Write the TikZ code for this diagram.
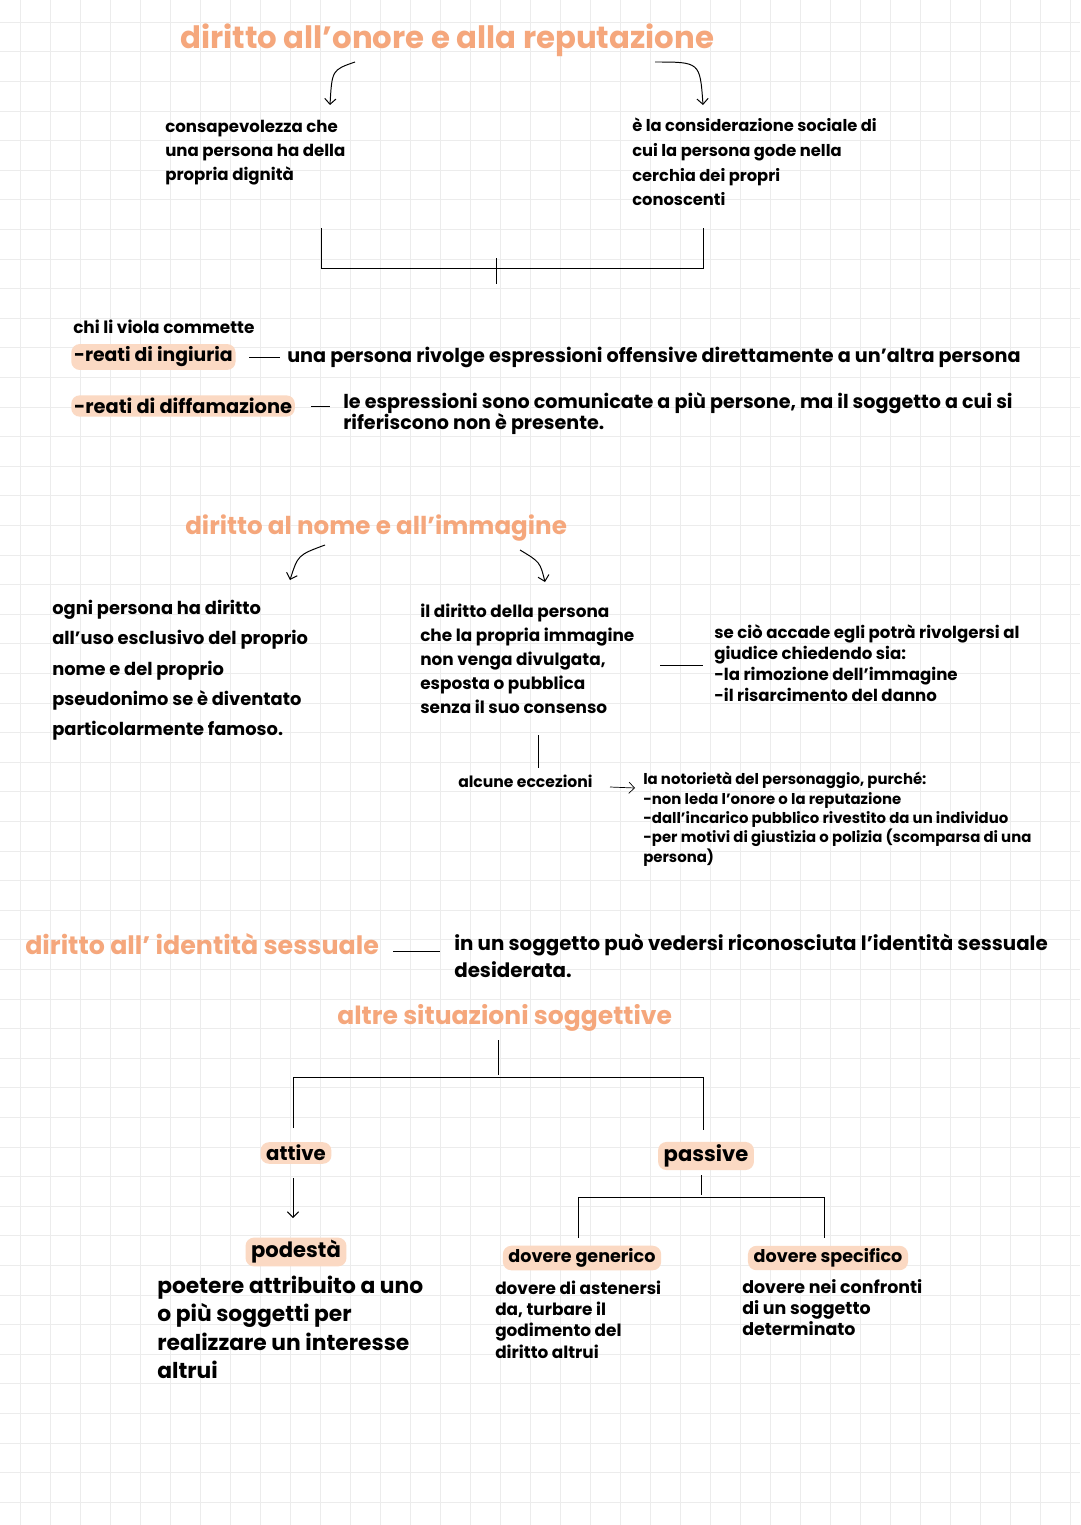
\documentclass[tikz,border=0pt]{standalone}
\usepackage{fontspec}
\setmainfont{Poppins}
\usetikzlibrary{positioning,arrows.meta}
\definecolor{peach}{HTML}{F5A77C}
\definecolor{hilite}{HTML}{FBD9C3}
\tikzset{
  title/.style={anchor=west, text=peach, font=\bfseries\fontsize{21.9}{24}\selectfont, inner sep=0pt},
  txt/.style={anchor=north west, align=left, inner sep=0pt, font=\bfseries\fontsize{12}{17}\selectfont},
  hl/.style={fill=hilite, rounded corners=6pt, inner xsep=4pt, inner ysep=2pt},
  link/.style={line width=0.7pt},
  tip/.style={line width=0.7pt, -{Straight Barb[length=4pt]}}
}
\begin{document}
\begin{tikzpicture}[x=0.025cm, y=-0.025cm]
  % paper and grid
  \fill[white] (0,0) rectangle (1080,1525);
  \useasboundingbox (0,0) rectangle (1080,1525);
  \foreach \x in {20,50,...,1070} \draw[gray!15] (\x,0) -- (\x,1525);
  \foreach \y in {0,...,51} \draw[gray!15] (0,22+29.6*\y) -- (1080,22+29.6*\y);

  % honour and reputation
  \node[title] (onore) at (180,40) {diritto all'onore e alla reputazione};
  \draw[tip] (355,62) .. controls (332,70) .. (330,105);
  \draw[tip] (655,62) .. controls (700,62) .. (703,105);
  \node[txt, font=\bfseries\fontsize{11.8}{17}\selectfont] (dignita) at (165,120) {consapevolezza che\\una persona ha della\\propria dignità};
  \node[txt, font=\bfseries\fontsize{11.6}{17.5}\selectfont] (consid) at (632,118) {è la considerazione sociale di\\cui la persona gode nella\\cerchia dei propri\\conoscenti};
  \coordinate (bl) at (321,228);
  \coordinate (br) at (703,228);
  \draw[link] (bl) -- (321,268) -- (703,268) -- (br);
  \draw[link] (496,258) -- (496,284);

  \node[txt] (viola) at (73,320) {chi li viola commette};
  \node[hl, anchor=west, inner xsep=2pt, font=\bfseries\fontsize{13.4}{14}\selectfont] (ingiuria) at (71,357) {-reati di ingiuria};
  \node[anchor=west, inner sep=0pt, font=\bfseries\fontsize{13.65}{14}\selectfont] (ingtxt) at (287,357) {una persona rivolge espressioni offensive direttamente a un'altra persona};
  \draw[link] (249,357) -- (280,357);
  \node[hl, anchor=west, inner xsep=2pt, font=\bfseries\fontsize{13.8}{14}\selectfont] (diffam) at (71,406) {-reati di diffamazione};
  \node[txt, font=\bfseries\fontsize{13.6}{15.5}\selectfont] (difftxt) at (343,392) {le espressioni sono comunicate a più persone, ma il soggetto a cui si\\riferiscono non è presente.};
  \draw[link] (311,406) -- (330,406);

  % name and image
  \node[title, font=\bfseries\fontsize{17.5}{20}\selectfont] (nome) at (185,528) {diritto al nome e all'immagine};
  \draw[tip] (325,545) .. controls (298,555) .. (290,580);
  \draw[tip] (520,550) .. controls (540,562) .. (545,582);
  \node[txt, font=\bfseries\fontsize{12.7}{21.5}\selectfont] (pseud) at (52,600) {ogni persona ha diritto\\all'uso esclusivo del proprio\\nome e del proprio\\pseudonimo se è diventato\\particolarmente famoso.};
  \node[txt, font=\bfseries\fontsize{12}{17}\selectfont] (immag) at (420,604) {il diritto della persona\\che la propria immagine\\non venga divulgata,\\esposta o pubblica\\senza il suo consenso};
  \node[txt, font=\bfseries\fontsize{11.8}{15}\selectfont] (giudice) at (714,624) {se ciò accade egli potrà rivolgersi al\\giudice chiedendo sia:\\-la rimozione dell'immagine\\-il risarcimento del danno};
  \draw[link] (660,665) -- (703,665);
  \draw[link] (538,735) -- (538,768);
  \node[anchor=west, inner sep=0pt, font=\bfseries\fontsize{11.1}{14}\selectfont] (eccez) at (458,781) {alcune eccezioni};
  \node[txt, font=\bfseries\fontsize{10.6}{13.8}\selectfont] (notor) at (643,772) {la notorietà del personaggio, purché:\\-non leda l'onore o la reputazione\\-dall'incarico pubblico rivestito da un individuo\\-per motivi di giustizia o polizia (scomparsa di una\\persona)};
  \draw[tip, line width=0.5pt] (610,787) -- (635,788);

  % sexual identity
  \node[title, font=\bfseries\fontsize{18}{20}\selectfont] (sessuale) at (25,944) {diritto all' identità sessuale};
  \draw[link] (393,951) -- (440,951);
  \node[txt, font=\bfseries\fontsize{14.1}{19}\selectfont] (deside) at (454,934) {in un soggetto può vedersi riconosciuta l'identità sessuale\\desiderata.};

  % other subjective situations
  \node[title, font=\bfseries\fontsize{17.8}{20}\selectfont] (altre) at (337,1018) {altre situazioni soggettive};
  \draw[link] (498,1040) -- (498,1075);
  \draw[link] (293,1128) -- (293,1077) -- (703,1077) -- (703,1130);
  \node[hl, font=\bfseries\fontsize{14}{16}\selectfont] (attive) at (296,1153) {attive};
  \node[hl, font=\bfseries\fontsize{15}{17}\selectfont] (passive) at (706,1156) {passive};
  \draw[tip] (293,1178) -- (293,1218);
  \draw[link] (701,1175) -- (701,1195);
  \draw[link] (578,1238) -- (578,1197) -- (824,1197) -- (824,1238);
  \node[hl, font=\bfseries\fontsize{15}{17}\selectfont] (podesta) at (296,1252) {podestà};
  \node[txt, font=\bfseries\fontsize{15.5}{20}\selectfont] (potere) at (157,1276) {poetere attribuito a uno\\o più soggetti per\\realizzare un interesse\\altrui};
  \node[hl, font=\bfseries\fontsize{12.5}{15}\selectfont] (generico) at (582,1258) {dovere generico};
  \node[txt, font=\bfseries\fontsize{12}{15}\selectfont] (astenersi) at (495,1281) {dovere di astenersi\\da, turbare il\\godimento del\\diritto altrui};
  \node[hl, font=\bfseries\fontsize{12.5}{15}\selectfont] (specifico) at (828,1258) {dovere specifico};
  \node[txt, font=\bfseries\fontsize{12.4}{15}\selectfont] (confronti) at (742,1279) {dovere nei confronti\\di un soggetto\\determinato};
\end{tikzpicture}
\end{document}
